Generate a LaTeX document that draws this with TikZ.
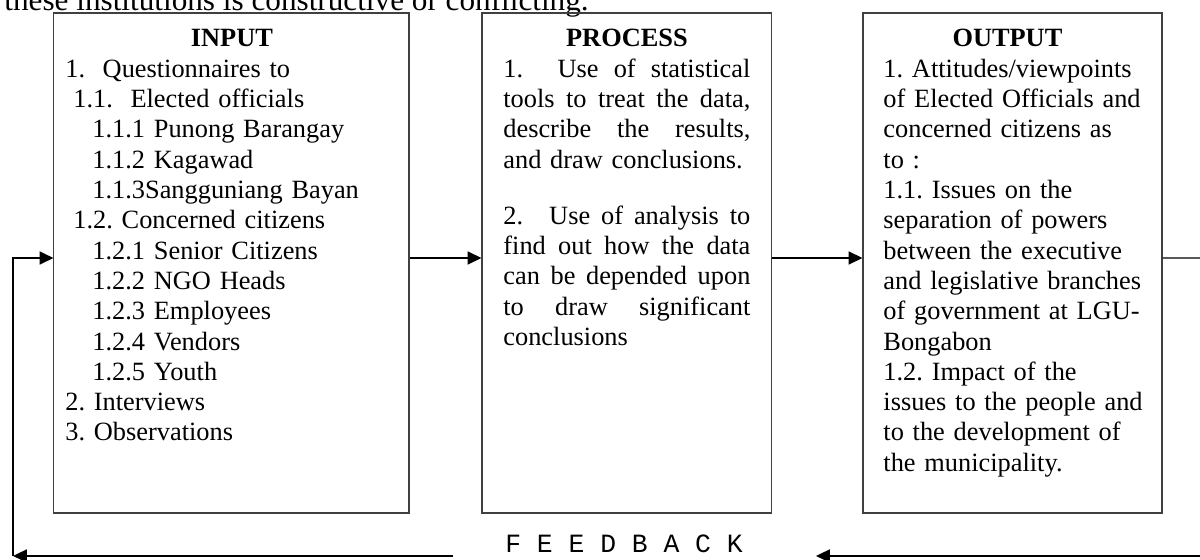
\documentclass[tikz,border=0pt]{standalone}
\usepackage{fontspec}
\setmainfont{Liberation Serif}
\setmonofont{Liberation Mono}
\usetikzlibrary{arrows.meta}
\frenchspacing

\begin{document}
\begin{tikzpicture}[
  box/.style={draw=black!75, line width=0.5pt, inner sep=0pt},
  txt/.style={inner sep=0pt, anchor=base west, font=\fontsize{12.5pt}{14.37pt}\selectfont},
  flow/.style={line width=0.7pt, -{Triangle[length=6.6pt,width=6.2pt]}},
  link/.style={line width=0.7pt}]
\useasboundingbox (0,0) rectangle (20,9.333);
% caption line, cut off at the top
\node[anchor=base west, inner sep=0pt, font=\fontsize{14.8pt}{17pt}\selectfont] (caption) at (0.067,9.15) {these institutions is constructive or conflicting.};
% the three boxes
\node[box, minimum width=5.917cm, minimum height=8.333cm] (input) at (3.858,4.95) {};
\node[box, minimum width=4.817cm, minimum height=8.333cm] (process) at (10.442,4.95) {};
\node[box, minimum width=4.983cm, minimum height=8.333cm] (output) at (16.875,4.95) {};
% box texts
\node[txt, text width=5.55cm] (inputtxt) at (1.083,8.55) {\makebox[\linewidth]{\bfseries INPUT}\\
1.\ \ Questionnaires to\\
\hspace*{3.8pt}1.1.\ \ Elected officials\\
\hspace*{12.8pt}1.1.1 Punong Barangay\\
\hspace*{12.8pt}1.1.2 Kagawad\\
\hspace*{12.8pt}1.1.3Sangguniang Bayan\\
\hspace*{3.8pt}1.2. Concerned citizens\\
\hspace*{12.8pt}1.2.1 Senior Citizens\\
\hspace*{12.8pt}1.2.2 NGO Heads\\
\hspace*{12.8pt}1.2.3 Employees\\
\hspace*{12.8pt}1.2.4 Vendors\\
\hspace*{12.8pt}1.2.5 Youth\\
2. Interviews\\
3. Observations};
\node[txt, text width=4.117cm] (processtxt) at (8.383,8.55) {\makebox[\linewidth]{\bfseries PROCESS}\\
\leavevmode\hbox to\linewidth{1.\hfil\hfil\hspace{2pt}Use\hfil of\hfil statistical}\\
\leavevmode\hbox to\linewidth{tools\hfil to\hfil treat\hfil the\hfil data,}\\
\leavevmode\hbox to\linewidth{describe\hfil the\hfil results,}\\
and draw conclusions.\\[12.2pt]
\leavevmode\hbox to\linewidth{2.\hfil\hfil\hspace{2pt}Use\hfil of\hfil analysis\hfil to}\\
\leavevmode\hbox to\linewidth{find\hfil out\hfil how\hfil the\hfil data}\\
\leavevmode\hbox to\linewidth{can\hfil be\hfil depended\hfil upon}\\
\leavevmode\hbox to\linewidth{to\hfil draw\hfil significant}\\
conclusions};
\node[txt, text width=4.45cm] (outputtxt) at (14.717,8.55) {\makebox[4.133cm]{\bfseries OUTPUT}\\
1. Attitudes/viewpoints\\
of Elected Officials and\\
concerned citizens as\\
to :\\
1.1. Issues on the\\
separation of powers\\
between the executive\\
and legislative branches\\
of government at LGU-\\
Bongabon\\
1.2. Impact of the\\
issues to the people and\\
to the development of\\
the municipality.};
% forward arrows
\coordinate (outend) at (20,5.033);
\draw[flow] ([yshift=0.083cm]input.east) -- ([yshift=0.083cm]process.west);
\draw[flow] ([yshift=0.083cm]process.east) -- ([yshift=0.083cm]output.west);
\draw[link] ([yshift=0.083cm]output.east) -- (outend);
% feedback loop
\coordinate (fbcorner) at (0.217,0.067);
\coordinate (fbstart) at (7.55,0.067);
\coordinate (fbend) at (20,0.067);
\coordinate (fbtip) at (13.6,0.067);
\draw[flow] (fbstart) -- (fbcorner);
\draw[flow] (fbcorner) |- ([yshift=0.083cm]input.west);
\draw[flow] (fbend) -- (fbtip);
\node[anchor=base, inner sep=0pt, font=\ttfamily\fontsize{12.5pt}{14pt}\selectfont] (feedback) at (10.4,0.133) {F E E D B A C K};
\end{tikzpicture}
\end{document}
